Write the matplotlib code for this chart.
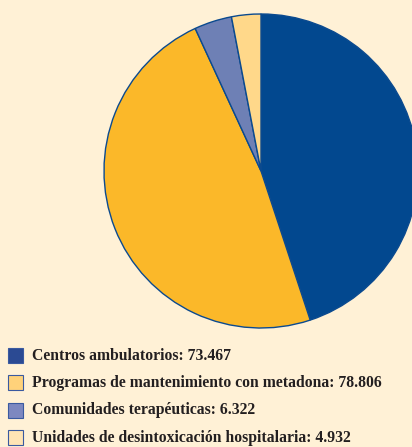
import matplotlib.pyplot as plt
from matplotlib.patches import Rectangle

categorias = ["Centros ambulatorios", "Programas de mantenimiento con metadona",
              "Comunidades terapéuticas", "Unidades de desintoxicación hospitalaria"]
valores = [73467, 78806, 6322, 4932]
etiquetas_valor = ["73.467", "78.806", "6.322", "4.932"]
colores = ["#02488F", "#FBB829", "#6E80B5", "#FFD88A"]
colores_leyenda = ["#2B4A93", "#FFD27A", "#7D88C0", "#FFE4B5"]
fondo = "#FFF1D6"
borde = "#0B4A8F"

W, H = 412, 447
fig = plt.figure(figsize=(W / 100, H / 100), dpi=100, facecolor=fondo)

# pie: center (261,171) px, radius 157 px
ax = fig.add_axes([104 / W, (H - 328) / H, 314 / W, 314 / H])
ax.set_facecolor(fondo)
ax.pie(valores, colors=colores, startangle=90, counterclock=False, radius=1,
       wedgeprops=dict(edgecolor=borde, linewidth=1.0))
ax.set_xlim(-1, 1)
ax.set_ylim(-1, 1)
ax.set_aspect('auto')
ax.axis('off')
for p in ax.patches:
    p.set_clip_on(False)

# legend
y0 = 355.5
paso = 27.4
for i, (cat, val, col) in enumerate(zip(categorias, etiquetas_valor, colores_leyenda)):
    yc = y0 + i * paso
    fig.add_artist(Rectangle((8 / W, (H - yc - 7.5) / H), 15.5 / W, 15 / H,
                             transform=fig.transFigure, facecolor=col,
                             edgecolor="#3A5AA0", linewidth=0.8))
    fig.text(32 / W, (H - yc) / H, f"{cat}: {val}", ha='left', va='center',
             fontsize=11.3, fontfamily='Liberation Serif', fontweight='bold',
             color='#231F20')

fig.savefig('out.png', dpi=100, facecolor=fondo)
